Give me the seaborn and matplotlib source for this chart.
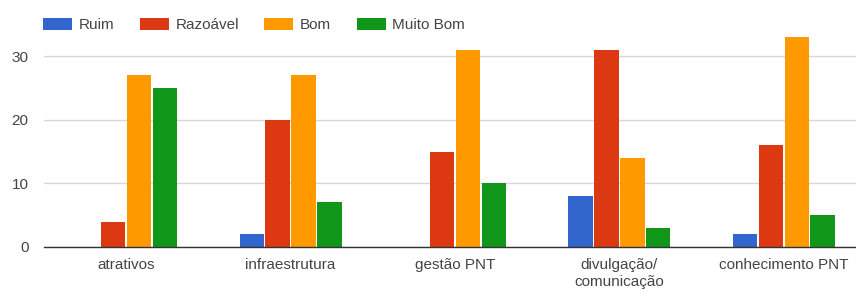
import matplotlib
matplotlib.use("Agg")
import matplotlib.pyplot as plt
import seaborn as sns
import pandas as pd

categorias = ["atrativos", "infraestrutura", "gestão PNT", "divulgação/\ncomunicação", "conhecimento PNT"]
niveis = ["Ruim", "Razoável", "Bom", "Muito Bom"]
ruim = [0, 2, 0, 8, 2]
razoavel = [4, 20, 15, 31, 16]
bom = [27, 27, 31, 14, 33]
muito_bom = [25, 7, 10, 3, 5]
cores = ["#3366cc", "#dc3912", "#ff9900", "#109618"]
y_ticks = [0, 10, 20, 30]

rows = []
for nivel, vals in zip(niveis, [ruim, razoavel, bom, muito_bom]):
    for cat, v in zip(categorias, vals):
        rows.append({"categoria": cat, "nivel": nivel, "valor": v})
df = pd.DataFrame(rows)

sns.set_style("white")
plt.rcParams["font.family"] = ["Liberation Sans", "DejaVu Sans"]

W, H = 856, 299
fig = plt.figure(figsize=(W / 100, H / 100), dpi=100)
left, right = 44, 866
bottom = 247
top = 247 - 34 * 6.36
ax = fig.add_axes([left / W, (H - bottom) / H, (right - left) / W, (bottom - top) / H])

sns.barplot(data=df, x="categoria", y="valor", hue="nivel", hue_order=niveis,
            order=categorias, palette=cores, width=0.63, gap=0.06,
            saturation=1, linewidth=0, ax=ax, legend=True)

ax.set_xlim(-0.5, 4.5)
ax.set_ylim(0, 34)
ax.set_yticks(y_ticks)
ax.grid(axis="y", color="#d9d9d9", linewidth=1)
ax.set_axisbelow(True)
for s in ["top", "right", "left"]:
    ax.spines[s].set_visible(False)
ax.spines["bottom"].set_color("#333333")
ax.spines["bottom"].set_linewidth(1)
ax.tick_params(axis="y", length=0, pad=11, labelsize=11, labelcolor="#444444")
ax.tick_params(axis="x", length=0, pad=8, labelsize=11, labelcolor="#444444")
for t in ax.get_xticklabels():
    t.set_linespacing(1.3)
ax.set_xlabel("")
ax.set_ylabel("")
for b in ax.patches:
    b.set_clip_on(False)

handles, labels = ax.get_legend_handles_labels()
ax.get_legend().remove()
fig.legend(handles, labels, loc="center left", bbox_to_anchor=(43 / W, 1 - 25 / H),
           ncol=4, frameon=False, fontsize=11, handlelength=1.9, handleheight=0.8,
           handletextpad=0.45, columnspacing=1.65, borderpad=0, borderaxespad=0,
           labelcolor="#444444")

fig.savefig("out.png", dpi=100)
